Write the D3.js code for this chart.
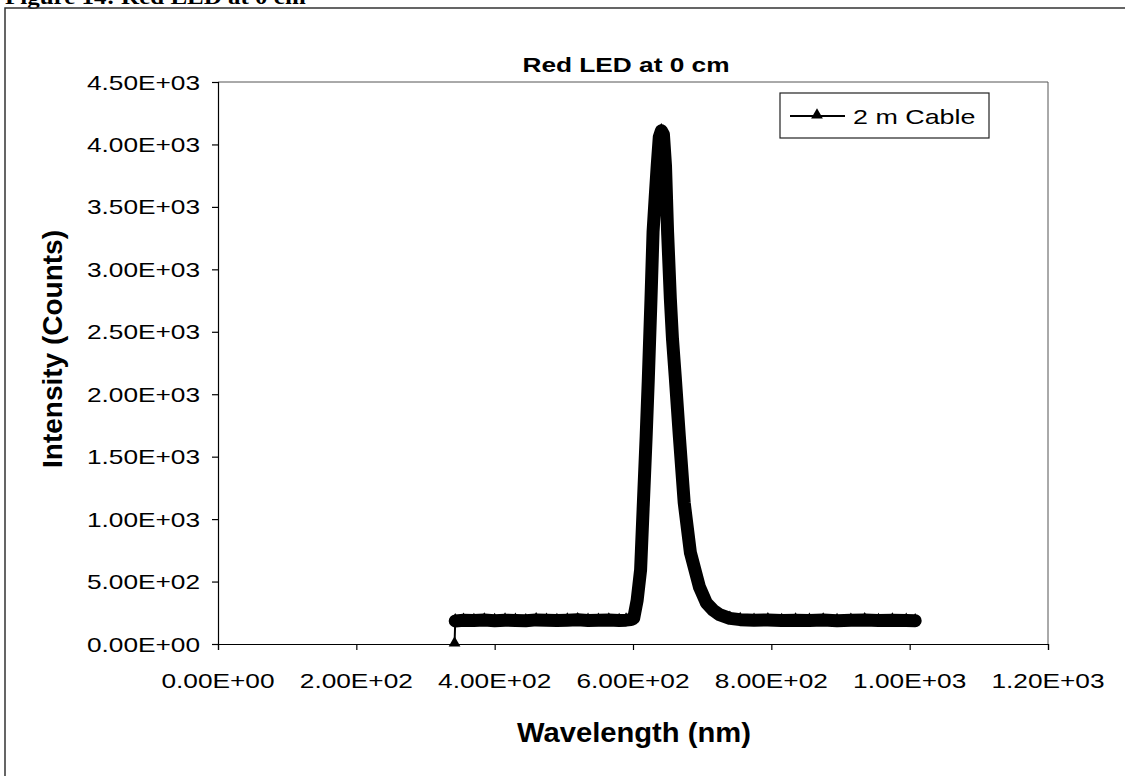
<!DOCTYPE html>
<html>
<head>
<meta charset="utf-8">
<script src="https://cdn.jsdelivr.net/npm/d3@7"></script>
<style>
  body { margin: 0; background: #fff; }
  svg { display: block; }
  text { font-family: "Liberation Sans", Arial, sans-serif; fill: #000; }
</style>
</head>
<body>
<svg id="chart" width="1125" height="776"></svg>
<script>
// spectrum
const wavelength = [342, 343, 355, 370, 385, 400, 415, 430, 445, 460,
  475, 490, 505, 520, 535, 550, 565, 580, 590, 597,
  601, 606, 611, 615, 619, 622, 626, 629, 632, 635,
  638, 641, 644, 647, 650, 654, 657, 661, 667, 674,
  683, 696, 706, 716, 725, 740, 755, 775, 795, 815,
  835, 855, 875, 895, 915, 935, 955, 975, 995, 1008];
const counts = [0, 185, 190, 188, 192, 187, 191, 189, 186, 193,
  190, 188, 191, 194, 189, 190, 192, 188, 191, 195,
  205, 350, 595, 1130, 1660, 2100, 2760, 3300, 3570, 3830,
  4060, 4110, 4080, 3830, 3300, 2765, 2450, 2146, 1664, 1133,
  731, 458, 330, 270, 235, 205, 195, 190, 193, 188,
  191, 189, 192, 187, 190, 193, 188, 191, 189, 186];
const xTicks = [0, 200, 400, 600, 800, 1000, 1200];
const yTicks = [0, 500, 1000, 1500, 2000, 2500, 3000, 3500, 4000, 4500];
const seriesName = '2 m Cable';

const points = wavelength.map((w, i) => ({ w: w, c: counts[i] }));

const svg = d3.select('svg#chart');
const x = d3.scaleLinear().domain([0, 1200]).range([218, 1048]);
const y = d3.scaleLinear().domain([0, 4500]).range([644, 82]);

// Excel style 4.50E+03
const sci = (v) => {
  if (v === 0) return '0.00E+00';
  const e = Math.floor(Math.log10(Math.abs(v)));
  const m = (v / Math.pow(10, e)).toFixed(2);
  return `${m}E${e < 0 ? '-' : '+'}${String(Math.abs(e)).padStart(2, '0')}`;
};

// the scan is a bit wider than normal glyphs, so stretch text horizontally
function label(px, py, str, size, anchor, sx, weight) {
  return svg.append('text')
    .attr('transform', `translate(${px},${py}) scale(${sx},1)`)
    .attr('font-size', size)
    .attr('font-weight', weight || 'normal')
    .attr('text-anchor', anchor)
    .text(str);
}

// figure caption, cut off at the top of the page as in the scan
label(5, 4, 'Figure 14: Red LED at 0 cm', 20, 'start', 1.25, 'bold')
  .style('font-family', '"Liberation Serif", serif');

// outer frame
svg.append('path')
  .attr('d', 'M5,776 L5,8 L1125,8')
  .attr('fill', 'none')
  .attr('stroke', '#333')
  .attr('stroke-width', 1.5);

// plot area border (top and right)
svg.append('path')
  .attr('d', `M${x(0)},${y(4500)} L${x(1200)},${y(4500)} L${x(1200)},${y(0)}`)
  .attr('fill', 'none')
  .attr('stroke', '#555')
  .attr('stroke-width', 1);

// axes
const yAxis = d3.axisLeft(y).tickValues(yTicks).tickSize(6).tickFormat('');
const xAxis = d3.axisBottom(x).tickValues(xTicks).tickSize(6).tickFormat('');
svg.append('g').attr('transform', `translate(${x(0)},0)`).call(yAxis)
  .call((g) => g.selectAll('path, line').attr('stroke', '#000').attr('stroke-width', 1.2));
svg.append('g').attr('transform', `translate(0,${y(0)})`).call(xAxis)
  .call((g) => g.selectAll('path, line').attr('stroke', '#000').attr('stroke-width', 1.2));

yTicks.forEach((t) => label(200, y(t) + 7.5, sci(t), 21, 'end', 1.25));
xTicks.forEach((t) => label(x(t), 688, sci(t), 21, 'middle', 1.25));

// titles
label(626, 72, 'Red LED at 0 cm', 21, 'middle', 1.25, 'bold');
label(634, 742, 'Wavelength (nm)', 27, 'middle', 1.08, 'bold');
svg.append('text')
  .attr('transform', `translate(62,349) rotate(-90)`)
  .attr('font-size', 28)
  .attr('font-weight', 'bold')
  .attr('text-anchor', 'middle')
  .text('Intensity (Counts)');

// series: the dense markers form a thick band, plus the thin connecting line
const line = d3.line().x((d) => x(d.w)).y((d) => y(d.c));
svg.append('path')
  .datum(points.slice(1))
  .attr('d', line)
  .attr('fill', 'none')
  .attr('stroke', '#000')
  .attr('stroke-width', 13)
  .attr('stroke-linejoin', 'round')
  .attr('stroke-linecap', 'round');
svg.append('path')
  .datum(points)
  .attr('d', line)
  .attr('fill', 'none')
  .attr('stroke', '#000')
  .attr('stroke-width', 2);

const tri = d3.symbol().type(d3.symbolTriangle).size(60);
svg.append('g')
  .selectAll('path')
  .data(points)
  .enter()
  .append('path')
  .attr('d', tri)
  .attr('transform', (d) => `translate(${x(d.w)},${y(d.c) - 1})`)
  .attr('fill', '#000');

// legend
const lg = svg.append('g');
lg.append('rect')
  .attr('x', 780).attr('y', 93).attr('width', 209).attr('height', 45)
  .attr('fill', '#fff').attr('stroke', '#222').attr('stroke-width', 1.2);
lg.append('line')
  .attr('x1', 790).attr('x2', 845).attr('y1', 116).attr('y2', 116)
  .attr('stroke', '#000').attr('stroke-width', 2);
lg.append('path').attr('d', tri).attr('transform', 'translate(817,115)').attr('fill', '#000');
label(853, 124, seriesName, 21, 'start', 1.28);
</script>
</body>
</html>
